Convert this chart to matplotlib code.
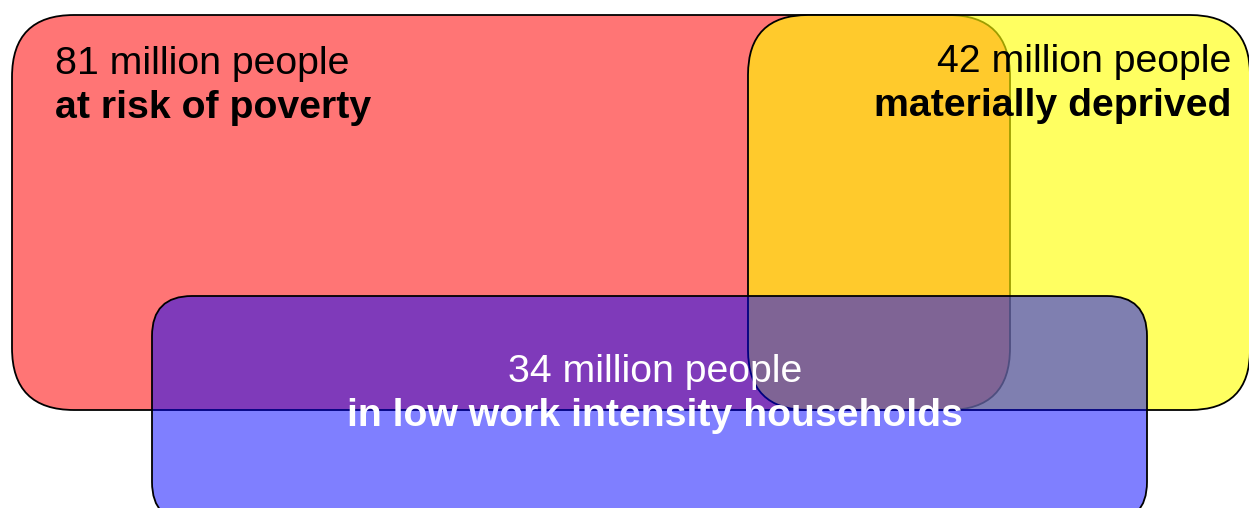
import matplotlib.pyplot as plt
from matplotlib.patches import FancyBboxPatch

plt.rcParams['font.family'] = ['Liberation Sans', 'DejaVu Sans']

# the three groups (millions of people)
groups = ['at risk of poverty', 'materially deprived', 'in low work intensity households']
millions = [81, 42, 34]
face_colors = [(1, 0, 0, 0.54), (1, 1, 0, 0.62), (0, 0, 1, 0.5)]
text_colors = ['black', 'black', 'white']

# box layout in pixel coordinates: x0, y0, width, height, corner radius
boxes = [(12, 15, 998, 395, 62),
         (748, 15, 502, 395, 60),
         (152, 296, 995, 226, 40)]
# text anchor: x, baseline of first line, alignment
labels_at = [(55, 74, 'left'), (1231, 72, 'right'), (655, 382, 'center')]

fig = plt.figure(figsize=(12.49, 5.08), dpi=100)
ax = fig.add_axes([0, 0, 1, 1])
ax.set_xlim(0, 1249)
ax.set_ylim(508, 0)
ax.axis('off')

for (x0, y0, w, h, r), fc in zip(boxes, face_colors):
    p = FancyBboxPatch((x0, y0), w, h, boxstyle=f'round,pad=0,rounding_size={r}',
                       facecolor=fc, edgecolor='black', linewidth=1.3)
    ax.add_patch(p)

for (x, y, ha), n, g, tc in zip(labels_at, millions, groups, text_colors):
    ax.text(x, y, f'{n} million people', ha=ha, va='baseline', fontsize=28.3,
            color=tc, zorder=10)
    ax.text(x, y + 44, g, ha=ha, va='baseline', fontsize=28.3, fontweight='bold',
            color=tc, zorder=10)

fig.savefig('out.png', dpi=100)
